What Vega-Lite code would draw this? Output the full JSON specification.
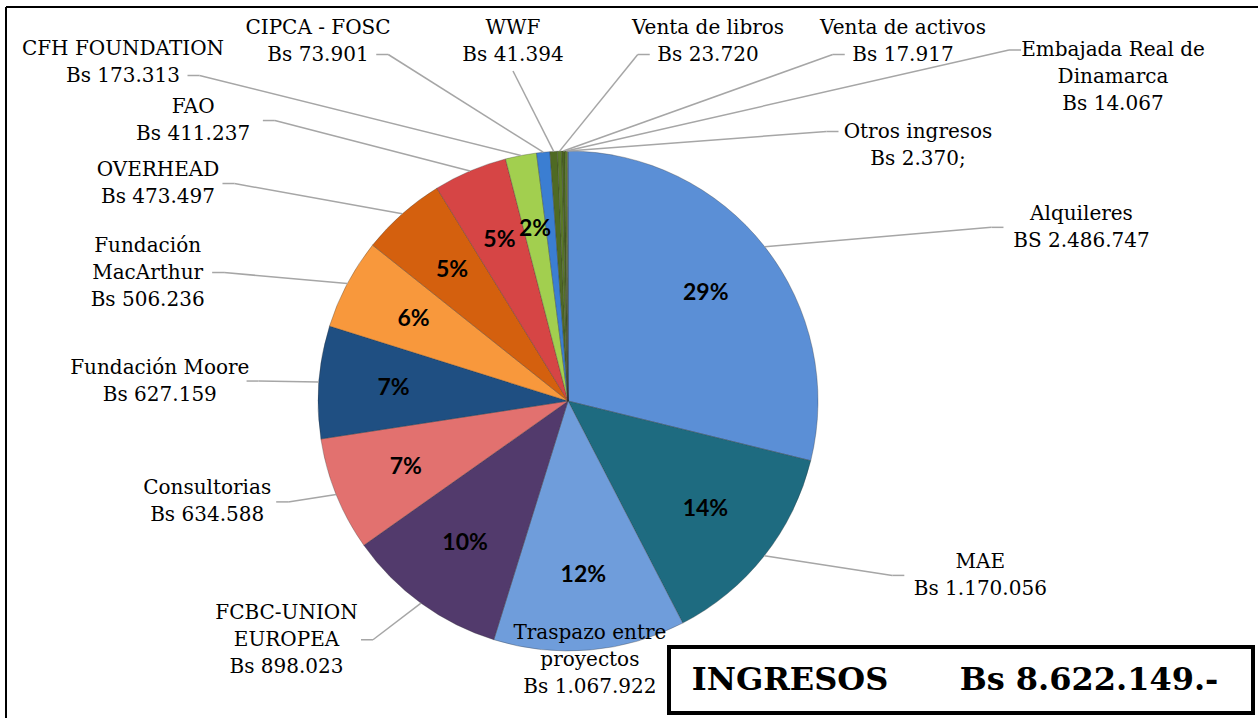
{
  "$schema": "https://vega.github.io/schema/vega-lite/v6.json",
  "width": 1252,
  "height": 711,
  "autosize": {"type": "none"},
  "padding": {"left": 6, "top": 7, "right": 0, "bottom": 0},
  "background": "white",
  "config": {"view": {"stroke": null}},
  "datasets": {
    "slices": [
      {"order": 0, "label": "Alquileres\nBS 2.486.747", "value": 2486747},
      {"order": 1, "label": "MAE\nBs 1.170.056", "value": 1170056},
      {"order": 2, "label": "Traspazo entre\nproyectos\nBs 1.067.922", "value": 1067922},
      {"order": 3, "label": "FCBC-UNION\nEUROPEA\nBs 898.023", "value": 898023},
      {"order": 4, "label": "Consultorias\nBs 634.588", "value": 634588},
      {"order": 5, "label": "Fundación Moore\nBs 627.159", "value": 627159},
      {"order": 6, "label": "Fundación\nMacArthur\nBs 506.236", "value": 506236},
      {"order": 7, "label": "OVERHEAD\nBs 473.497", "value": 473497},
      {"order": 8, "label": "FAO\nBs  411.237", "value": 411237},
      {"order": 9, "label": "CFH FOUNDATION\nBs 173.313", "value": 173313},
      {"order": 10, "label": "CIPCA - FOSC\nBs 73.901", "value": 73901},
      {"order": 11, "label": "WWF\nBs 41.394", "value": 41394},
      {"order": 12, "label": "Venta de libros\nBs 23.720", "value": 23720},
      {"order": 13, "label": "Venta de activos\nBs 17.917", "value": 17917},
      {"order": 14, "label": "Embajada Real de\nDinamarca\nBs 14.067", "value": 14067},
      {"order": 15, "label": "Otros ingresos\nBs 2.370;", "value": 2370}
    ],
    "box": [
      {"name": "INGRESOS", "amount": "Bs 8.622.149.-"}
    ]
  },
  "layer": [
    {
      "data": {"name": "slices"},
      "transform": [
        {"window": [{"op": "sum", "field": "value", "as": "cum"}], "sort": [{"field": "order", "order": "ascending"}], "frame": [null, 0]},
        {"joinaggregate": [{"op": "sum", "field": "value", "as": "tot"}]},
        {"calculate": "datum.value / datum.tot", "as": "pct"},
        {"calculate": "2 * PI * (datum.cum - datum.value / 2) / datum.tot", "as": "mid"},
        {"calculate": "sin(datum.mid)", "as": "s"},
        {"calculate": "cos(datum.mid)", "as": "c"},
        {"calculate": "datum.s >= 0 ? 1 : -1", "as": "side"},
        {"calculate": "split(datum.label, '\\n')", "as": "lines"},
        {"calculate": "length(datum.lines)", "as": "nl"},
        {"calculate": "datum.lines[0]", "as": "l0"},
        {"calculate": "datum.lines[1] || ''", "as": "l1"},
        {"calculate": "datum.lines[2] || ''", "as": "l2"},
        {"calculate": "10.5 * length(datum.l0) + 4 * length(replace(datum.l0, regexp('[^A-Z]', 'g'), '')) + 2 * length(replace(datum.l0, regexp('[^0-9]', 'g'), ''))", "as": "wl0"},
        {"calculate": "10.5 * length(datum.l1) + 4 * length(replace(datum.l1, regexp('[^A-Z]', 'g'), '')) + 2 * length(replace(datum.l1, regexp('[^0-9]', 'g'), ''))", "as": "wl1"},
        {"calculate": "10.5 * length(datum.l2) + 4 * length(replace(datum.l2, regexp('[^A-Z]', 'g'), '')) + 2 * length(replace(datum.l2, regexp('[^0-9]', 'g'), ''))", "as": "wl2"},
        {"calculate": "max(datum.wl0, datum.wl1, datum.wl2)", "as": "w"},
        {"calculate": "datum.nl == 3 ? datum.wl2 : (datum.nl == 2 ? datum.wl1 : datum.wl0)", "as": "wlast"},
        {"calculate": "250 * datum.s", "as": "ex"},
        {"calculate": "250 * datum.c", "as": "ey"},
        {"calculate": "175 * datum.s", "as": "px"},
        {"calculate": "175 * datum.c", "as": "py"},
        {"calculate": "datum.order - 9", "as": "k"},
        {"calculate": "datum.k >= 0 ? 'small' : (abs(datum.s) < 0.3 ? 'bottom' : 'side')", "as": "kind"},
        {"calculate": "datum.side * (250 * abs(datum.s) + 60 + 160 * max(0, datum.c) + (datum.side > 0 ? 80 : 0))", "as": "Lx"},
        {"calculate": "datum.kind == 'side' ? datum.Lx + datum.side * (datum.w / 2 + 4) : (datum.kind == 'bottom' ? datum.ex : (datum.k < 5 ? -445 + 195 * datum.k : 545 - 195 * (datum.k - 5)))", "as": "tx"},
        {"calculate": "datum.kind == 'side' ? 262.5 * datum.c + 50 * pow(datum.c, 3) : (datum.kind == 'bottom' ? 1.04 * datum.ey : (datum.k < 5 ? (datum.k == 0 ? 339 : 360) : 324 - 68 * (datum.k - 5)))", "as": "ty"},
        {"calculate": "datum.ty + (datum.nl - 1) * 13.5", "as": "tyf"},
        {"calculate": "datum.kind != 'small' ? 0 : (datum.tx + datum.w / 2 < datum.ex - 20 ? -1 : (datum.tx - datum.w / 2 > datum.ex + 20 ? 1 : 0))", "as": "pos"},
        {"calculate": "datum.kind == 'small' && datum.k < 5 && datum.pos != 0", "as": "useLast"},
        {"calculate": "datum.useLast ? datum.wlast : datum.wl0", "as": "wa"},
        {"calculate": "datum.kind == 'side' ? datum.Lx : (datum.pos < 0 ? datum.tx + datum.wa / 2 + 4 : (datum.pos > 0 ? datum.tx - datum.wa / 2 - 4 : datum.tx))", "as": "ax"},
        {"calculate": "datum.kind == 'side' ? datum.ty : (datum.pos != 0 ? (datum.useLast ? datum.ty - (datum.nl - 1) * 13.5 : datum.ty + (datum.nl - 1) * 13.5) : datum.ty - datum.nl * 13.5 - 3)", "as": "ay"},
        {"calculate": "datum.kind == 'side' ? datum.Lx - datum.side * 12 : datum.ax - datum.pos * 12", "as": "bx"}
      ],
      "layer": [
        {
          "mark": {"type": "arc", "outerRadius": 250, "stroke": "#333333", "strokeWidth": 0.7, "strokeOpacity": 0.45},
          "encoding": {
            "theta": {"field": "value", "type": "quantitative", "stack": true},
            "order": {"field": "order", "type": "quantitative"},
            "color": {
              "field": "order", "type": "nominal", "legend": null,
              "scale": {
                "domain": [0, 1, 2, 3, 4, 5, 6, 7, 8, 9, 10, 11, 12, 13, 14, 15],
                "range": ["#5b8fd6", "#1e6b80", "#6f9ddb", "#523a6c", "#e2716f", "#1f4f82", "#f8983c", "#d4600e", "#d64545", "#a2cf4f", "#3b7ed2", "#4f6a23", "#5a7a28", "#4a6320", "#5b7b2b", "#b0b0b0"]
              }
            },
            "x": {"datum": 0, "type": "quantitative", "scale": {"domain": [-562, 690], "nice": false, "zero": false}, "axis": null},
            "y": {"datum": 0, "type": "quantitative", "scale": {"domain": [-317, 394], "nice": false, "zero": false}, "axis": null}
          }
        },
        {
          "transform": [
            {"filter": "datum.pct >= 0.015"},
            {"calculate": "format(datum.pct, '.0%')", "as": "ptxt"}
          ],
          "mark": {"type": "text", "font": "Lato", "fontWeight": "bold", "fontSize": 23, "color": "#000000", "align": "center", "baseline": "middle"},
          "encoding": {
            "x": {"field": "px", "type": "quantitative", "scale": {"domain": [-562, 690], "nice": false, "zero": false}, "axis": null},
            "y": {"field": "py", "type": "quantitative", "scale": {"domain": [-317, 394], "nice": false, "zero": false}, "axis": null},
            "text": {"field": "ptxt"}
          }
        },
        {
          "transform": [{"filter": "datum.kind != 'bottom'"}],
          "mark": {"type": "rule", "color": "#a6a6a6", "strokeWidth": 1.5},
          "encoding": {
            "x": {"field": "ex", "type": "quantitative", "scale": {"domain": [-562, 690], "nice": false, "zero": false}, "axis": null},
            "y": {"field": "ey", "type": "quantitative", "scale": {"domain": [-317, 394], "nice": false, "zero": false}, "axis": null},
            "x2": {"field": "bx"},
            "y2": {"field": "ay"}
          }
        },
        {
          "transform": [{"filter": "datum.kind != 'bottom'"}],
          "mark": {"type": "rule", "color": "#a6a6a6", "strokeWidth": 1.5},
          "encoding": {
            "x": {"field": "bx", "type": "quantitative", "scale": {"domain": [-562, 690], "nice": false, "zero": false}, "axis": null},
            "y": {"field": "ay", "type": "quantitative", "scale": {"domain": [-317, 394], "nice": false, "zero": false}, "axis": null},
            "x2": {"field": "ax"},
            "y2": {"field": "ay"}
          }
        },
        {
          "mark": {"type": "text", "font": "DejaVu Serif", "fontSize": 20, "lineHeight": 27, "lineBreak": "\n", "align": "center", "baseline": "middle", "color": "#000000"},
          "encoding": {
            "x": {"field": "tx", "type": "quantitative", "scale": {"domain": [-562, 690], "nice": false, "zero": false}, "axis": null},
            "y": {"field": "tyf", "type": "quantitative", "scale": {"domain": [-317, 394], "nice": false, "zero": false}, "axis": null},
            "text": {"field": "label"}
          }
        }
      ]
    },
    {
      "data": {"name": "box"},
      "layer": [
        {
          "mark": {"type": "rule", "color": "#000000", "strokeWidth": 2},
          "encoding": {
            "y": {"datum": 394, "type": "quantitative", "scale": {"domain": [-317, 394], "nice": false, "zero": false}, "axis": null}
          }
        },
        {
          "mark": {"type": "rule", "color": "#000000", "strokeWidth": 2},
          "encoding": {
            "x": {"datum": -562, "type": "quantitative", "scale": {"domain": [-562, 690], "nice": false, "zero": false}, "axis": null}
          }
        },
        {
          "mark": {"type": "rect", "fill": "#ffffff", "stroke": "#000000", "strokeWidth": 4},
          "encoding": {
            "x": {"datum": 101, "type": "quantitative", "scale": {"domain": [-562, 690], "nice": false, "zero": false}, "axis": null},
            "x2": {"datum": 685},
            "y": {"datum": -246, "type": "quantitative", "scale": {"domain": [-317, 394], "nice": false, "zero": false}, "axis": null},
            "y2": {"datum": -312}
          }
        },
        {
          "mark": {"type": "text", "font": "DejaVu Serif", "fontWeight": "bold", "fontSize": 32, "align": "center", "baseline": "middle", "color": "#000000"},
          "encoding": {
            "x": {"datum": 222, "type": "quantitative", "scale": {"domain": [-562, 690], "nice": false, "zero": false}, "axis": null},
            "y": {"datum": -279, "type": "quantitative", "scale": {"domain": [-317, 394], "nice": false, "zero": false}, "axis": null},
            "text": {"field": "name"}
          }
        },
        {
          "mark": {"type": "text", "font": "DejaVu Serif", "fontWeight": "bold", "fontSize": 32, "align": "center", "baseline": "middle", "color": "#000000"},
          "encoding": {
            "x": {"datum": 521, "type": "quantitative", "scale": {"domain": [-562, 690], "nice": false, "zero": false}, "axis": null},
            "y": {"datum": -279, "type": "quantitative", "scale": {"domain": [-317, 394], "nice": false, "zero": false}, "axis": null},
            "text": {"field": "amount"}
          }
        }
      ]
    }
  ]
}
